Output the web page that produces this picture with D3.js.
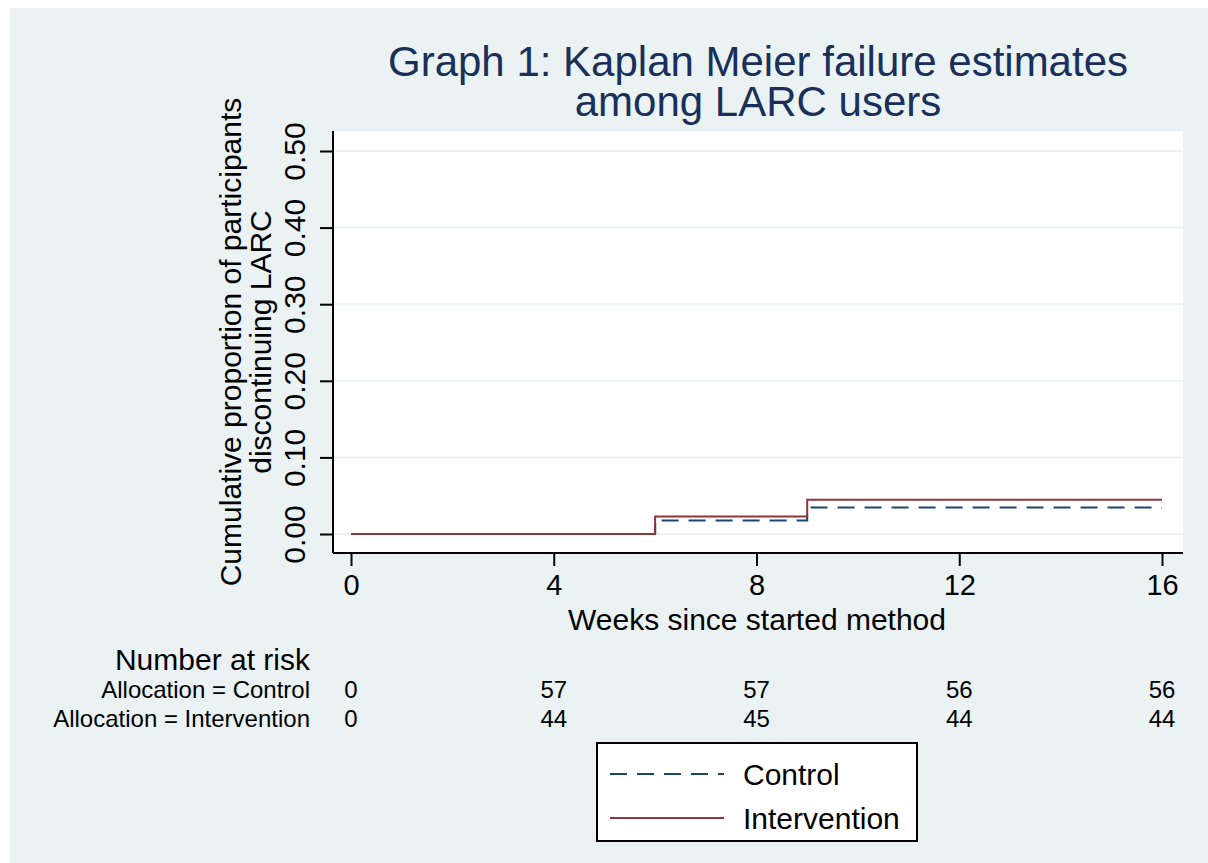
<!DOCTYPE html>
<html>
<head>
<meta charset="utf-8">
<script src="https://cdn.jsdelivr.net/npm/d3@7"></script>
<style>
  body { margin: 0; background: #fff; }
  svg { display: block; font-family: Arial, "Liberation Sans", sans-serif; }
</style>
</head>
<body>
<div id="chart"></div>
<script>
const width = 1208;
const height = 863;

// week breaks for the step curves
const controlTimes = [0, 6, 9, 16];
const controlFail = [0, 0.0175, 0.0345, 0.0345];
const interTimes = [0, 6, 9, 16];
const interFail = [0, 0.0227, 0.0448, 0.0448];

const xTicks = [0, 4, 8, 12, 16];
const yTicks = [0, 0.1, 0.2, 0.3, 0.4, 0.5];
const riskControl = [0, 57, 57, 56, 56];
const riskInter = [0, 44, 45, 44, 44];

const svg = d3.select('#chart')
  .append('svg')
  .attr('width', width)
  .attr('height', height);

svg.append('rect')
  .attr('x', 10).attr('y', 8)
  .attr('width', width - 10).attr('height', height - 8)
  .attr('fill', '#eaf2f3');

const plot = { left: 333, right: 1183, top: 131, bottom: 553 };

svg.append('rect')
  .attr('x', plot.left).attr('y', plot.top)
  .attr('width', plot.right - plot.left).attr('height', plot.bottom - plot.top)
  .attr('fill', '#fff');

const x = d3.scaleLinear().domain([0, 16]).range([351, 1162]);
const y = d3.scaleLinear().domain([0, 0.5]).range([534, 151]);

// gridlines
svg.append('g')
  .selectAll('line')
  .data(yTicks)
  .join('line')
    .attr('x1', plot.left).attr('x2', plot.right)
    .attr('y1', d => y(d)).attr('y2', d => y(d))
    .attr('stroke', '#eaf2f3')
    .attr('stroke-width', 2);

// curves
const step = d3.line().curve(d3.curveStepAfter).x(d => x(d[0])).y(d => y(d[1]));

svg.append('path')
  .datum(d3.zip(controlTimes, controlFail))
  .attr('d', step)
  .attr('fill', 'none')
  .attr('stroke', '#1a476f')
  .attr('stroke-width', 2)
  .attr('stroke-dasharray', '17,10');

svg.append('path')
  .datum(d3.zip(interTimes, interFail))
  .attr('d', step)
  .attr('fill', 'none')
  .attr('stroke', '#90353b')
  .attr('stroke-width', 2);

// axes
function yAxis(g) {
  g.attr('transform', `translate(${plot.left},0)`)
    .call(d3.axisLeft(y).tickValues(yTicks).tickFormat(d3.format('.2f')).tickSize(13))
    .call(g => g.select('.domain').attr('d', `M0,${plot.top}V${plot.bottom}`).attr('stroke-width', 2))
    .call(g => g.selectAll('.tick line').attr('stroke-width', 2))
    .call(g => g.selectAll('.tick text')
      .attr('font-size', 30)
      .attr('fill', '#000')
      .attr('text-anchor', 'middle')
      .attr('transform', 'translate(-39,0) rotate(-90)')
      .attr('x', 0)
      .attr('y', 0)
      .attr('dy', '0.35em'));
}

function xAxis(g) {
  g.attr('transform', `translate(0,${plot.bottom})`)
    .call(d3.axisBottom(x).tickValues(xTicks).tickSize(13).tickPadding(8))
    .call(g => g.select('.domain').attr('d', `M${plot.left},0H${plot.right}`).attr('stroke-width', 2))
    .call(g => g.selectAll('.tick line').attr('stroke-width', 2))
    .call(g => g.selectAll('.tick text').attr('font-size', 29).attr('fill', '#000'));
}

svg.append('g').call(yAxis);
svg.append('g').call(xAxis);

// title
const title = svg.append('text')
  .attr('text-anchor', 'middle')
  .attr('font-size', 42)
  .attr('fill', '#1a2f5a');
title.append('tspan').attr('x', 758).attr('y', 76).text('Graph 1: Kaplan Meier failure estimates');
title.append('tspan').attr('x', 758).attr('y', 116).text('among LARC users');

// axis titles
svg.append('text')
  .attr('x', 757).attr('y', 630)
  .attr('text-anchor', 'middle')
  .attr('font-size', 30)
  .text('Weeks since started method');

const ylab = svg.append('text')
  .attr('transform', 'translate(0,342) rotate(-90)')
  .attr('text-anchor', 'middle')
  .attr('font-size', 30);
ylab.append('tspan').attr('x', 0).attr('y', 241).text('Cumulative proportion of participants');
ylab.append('tspan').attr('x', 0).attr('y', 271).text('discontinuing LARC');

// number at risk table
svg.append('text')
  .attr('x', 310).attr('y', 670)
  .attr('text-anchor', 'end')
  .attr('font-size', 30)
  .text('Number at risk');

const rows = [
  { label: 'Allocation = Control', values: riskControl, y: 698 },
  { label: 'Allocation = Intervention', values: riskInter, y: 727 },
];

rows.forEach(r => {
  svg.append('text')
    .attr('x', 310).attr('y', r.y)
    .attr('text-anchor', 'end')
    .attr('font-size', 24)
    .text(r.label);
  svg.append('g')
    .selectAll('text')
    .data(r.values)
    .join('text')
      .attr('x', (d, i) => x(xTicks[i]))
      .attr('y', r.y)
      .attr('text-anchor', 'middle')
      .attr('font-size', 24)
      .text(d => d);
});

// legend
const legend = svg.append('g');
legend.append('rect')
  .attr('x', 597).attr('y', 743)
  .attr('width', 320).attr('height', 98)
  .attr('fill', '#fff')
  .attr('stroke', '#000')
  .attr('stroke-width', 2);

const legendItems = [
  { name: 'Control', color: '#1a476f', dash: '17,10', y: 774 },
  { name: 'Intervention', color: '#90353b', dash: null, y: 818 },
];

legendItems.forEach(it => {
  legend.append('line')
    .attr('x1', 610).attr('x2', 724)
    .attr('y1', it.y).attr('y2', it.y)
    .attr('stroke', it.color)
    .attr('stroke-width', 2)
    .attr('stroke-dasharray', it.dash);
  legend.append('text')
    .attr('x', 743).attr('y', it.y)
    .attr('dy', '0.35em')
    .attr('font-size', 30)
    .text(it.name);
});
</script>
</body>
</html>
